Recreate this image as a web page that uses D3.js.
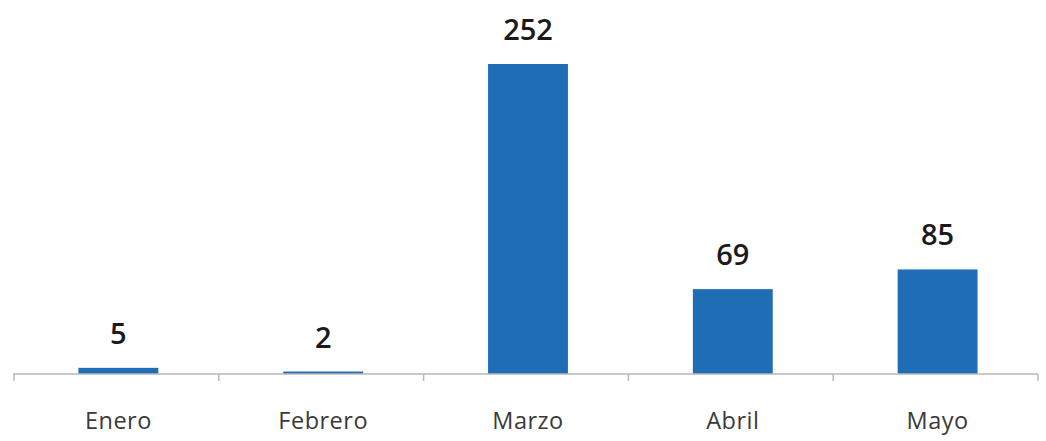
<!DOCTYPE html>
<html><head><meta charset="utf-8">
<script src="https://cdn.jsdelivr.net/npm/d3@7"></script>
<style>body{margin:0;background:#fff}</style>
</head><body>
<svg id="c" width="1046" height="441"></svg>
<script>
const categories = ["Enero","Febrero","Marzo","Abril","Mayo"];
const values = [5,2,252,69,85];

const svg = d3.select("#c");
const x = d3.scaleBand().domain(categories).range([15,1039]).paddingInner(0.61).paddingOuter(0.305);
const y = d3.scaleLinear().domain([0,252]).range([374,64]);

svg.append("g").selectAll("rect").data(values).join("rect")
  .attr("x",(d,i)=>x(categories[i])+1).attr("width",x.bandwidth())
  .attr("y",d=>y(d)).attr("height",d=>y(0)-y(d))
  .attr("fill","#1f6db4");

const g = svg.append("g").attr("transform","translate(0,374)");
g.append("line").attr("x1",13).attr("x2",1038).attr("stroke","#b8b8b8").attr("stroke-width",1.5);
const step = x.step();
const bounds = d3.range(categories.length+1).map(i=>14+i*step);
g.selectAll(".tk").data(bounds).join("line").attr("x1",d=>d).attr("x2",d=>d).attr("y1",0).attr("y2",7).attr("stroke","#b8b8b8").attr("stroke-width",1.5);
g.selectAll(".lb").data(categories).join("text")
  .attr("x",d=>x(d)+x.bandwidth()/2+1).attr("y",55).attr("text-anchor","middle")
  .attr("font-family","Open Sans, sans-serif").attr("font-size",23.5).attr("letter-spacing",0.5).attr("fill","#3a3a3a").text(d=>d);

svg.append("g").selectAll("text").data(values).join("text")
  .attr("x",(d,i)=>x(categories[i])+x.bandwidth()/2+1).attr("y",d=>y(d)-24)
  .attr("text-anchor","middle").attr("font-family","Open Sans, sans-serif").attr("font-weight",600)
  .attr("font-size",29).attr("fill","#1a1a1a").text(d=>d);
</script>
</body></html>
